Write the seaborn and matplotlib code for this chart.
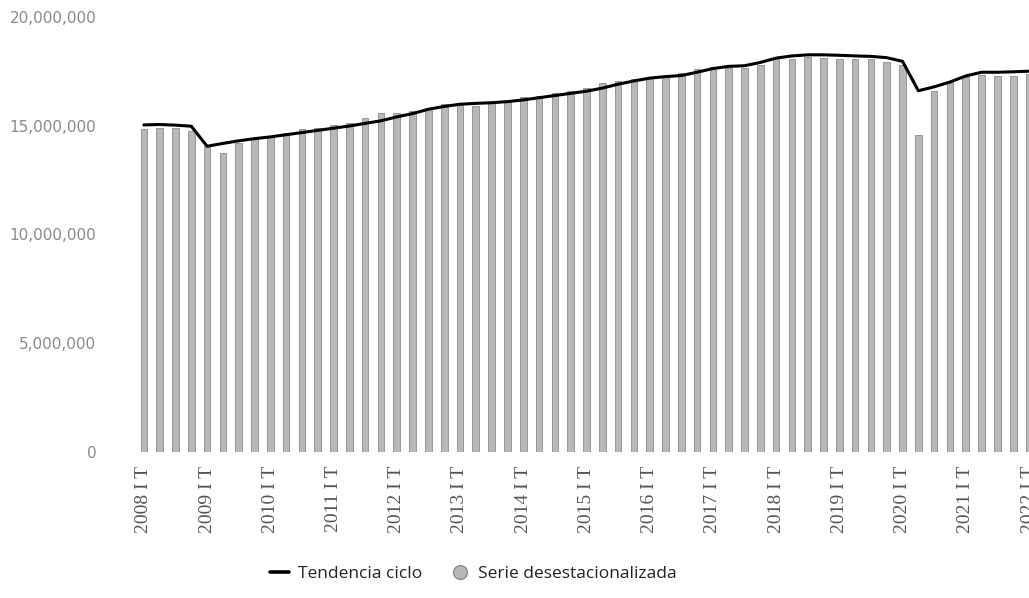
import numpy as np
import pandas as pd
import seaborn as sns
import matplotlib.pyplot as plt
from matplotlib.lines import Line2D
from matplotlib.ticker import FuncFormatter

# trimestres 2008 I T .. 2022 I T
years = list(range(2008, 2023))
quarters = ["I", "II", "III", "IV"]
periods = [f"{y} {q}T" for y in years for q in quarters][:57]

# serie desestacionalizada (millones)
serie = [14.85, 14.91, 14.88, 14.76, 14.04, 13.73, 14.22, 14.42,
         14.53, 14.65, 14.84, 14.88, 15.03, 15.11, 15.34, 15.57,
         15.60, 15.69, 15.80, 15.99, 15.95, 15.88, 16.03, 16.11,
         16.31, 16.37, 16.49, 16.61, 16.72, 16.95, 17.07, 17.14,
         17.18, 17.26, 17.41, 17.59, 17.69, 17.64, 17.64, 17.79,
         18.05, 18.05, 18.15, 18.10, 18.05, 18.05, 18.05, 17.94,
         17.79, 14.57, 16.61, 16.98, 17.22, 17.33, 17.26, 17.29,
         17.35]

# tendencia ciclo (millones)
tendencia = [15.03, 15.05, 15.02, 14.97, 14.05, 14.18, 14.30, 14.40,
             14.48, 14.58, 14.68, 14.78, 14.88, 14.98, 15.10, 15.22,
             15.40, 15.55, 15.75, 15.88, 15.98, 16.02, 16.05, 16.10,
             16.18, 16.28, 16.38, 16.48, 16.58, 16.72, 16.90, 17.05,
             17.18, 17.25, 17.30, 17.45, 17.62, 17.72, 17.75, 17.90,
             18.10, 18.20, 18.25, 18.25, 18.23, 18.20, 18.18, 18.12,
             17.95, 16.60, 16.78, 17.00, 17.28, 17.45, 17.45, 17.47,
             17.50]

df = pd.DataFrame({
    "periodo": periods,
    "serie": np.array(serie) * 1e6,
    "tendencia": np.array(tendencia) * 1e6,
})
df["pos"] = np.arange(len(df))

sns.set_style("white")
fig = plt.figure(figsize=(10.29, 5.98), dpi=100)
ax = fig.add_axes([0.126, 0.244, 0.874, 0.728])

sns.barplot(data=df, x="periodo", y="serie", color="#b8b8b8", width=0.42,
            edgecolor="#8c8c8c", linewidth=0.6, saturation=1, ax=ax)
sns.lineplot(x=df["pos"], y=df["tendencia"], color="black", linewidth=2.2, ax=ax)

ax.set_ylim(0, 20_000_000)
ax.set_xlim(-0.9, 56.0)
ax.set_yticks([0, 5_000_000, 10_000_000, 15_000_000, 20_000_000])
ax.yaxis.set_major_formatter(FuncFormatter(lambda v, p: f"{int(v):,}"))
ax.tick_params(axis="y", labelsize=11, labelcolor="#8a8a8a", length=0, pad=24)

tick_pos = df["pos"][::4]
ax.set_xticks(tick_pos)
ax.set_xticklabels([f"{y} I T" for y in years], rotation=90,
                   fontfamily="Liberation Serif", fontsize=14, color="#555555")
ax.tick_params(axis="x", length=0, pad=10)
ax.set_xlabel("")
ax.set_ylabel("")
sns.despine(ax=ax, left=True, bottom=True)

handles = [
    Line2D([0], [0], color="black", linewidth=2.6),
    Line2D([0], [0], marker="o", color="none", markerfacecolor="#b8b8b8",
           markeredgecolor="#8c8c8c", markersize=10),
]
fig.legend(handles, ["Tendencia ciclo", "Serie desestacionalizada"],
           loc="center", bbox_to_anchor=(0.46, 0.04), ncol=2, frameon=False,
           prop={"family": "Open Sans", "size": 12.5}, handlelength=1.1,
           columnspacing=1.6, handletextpad=0.5, labelcolor="#222222")

plt.savefig("out.png", dpi=100)
